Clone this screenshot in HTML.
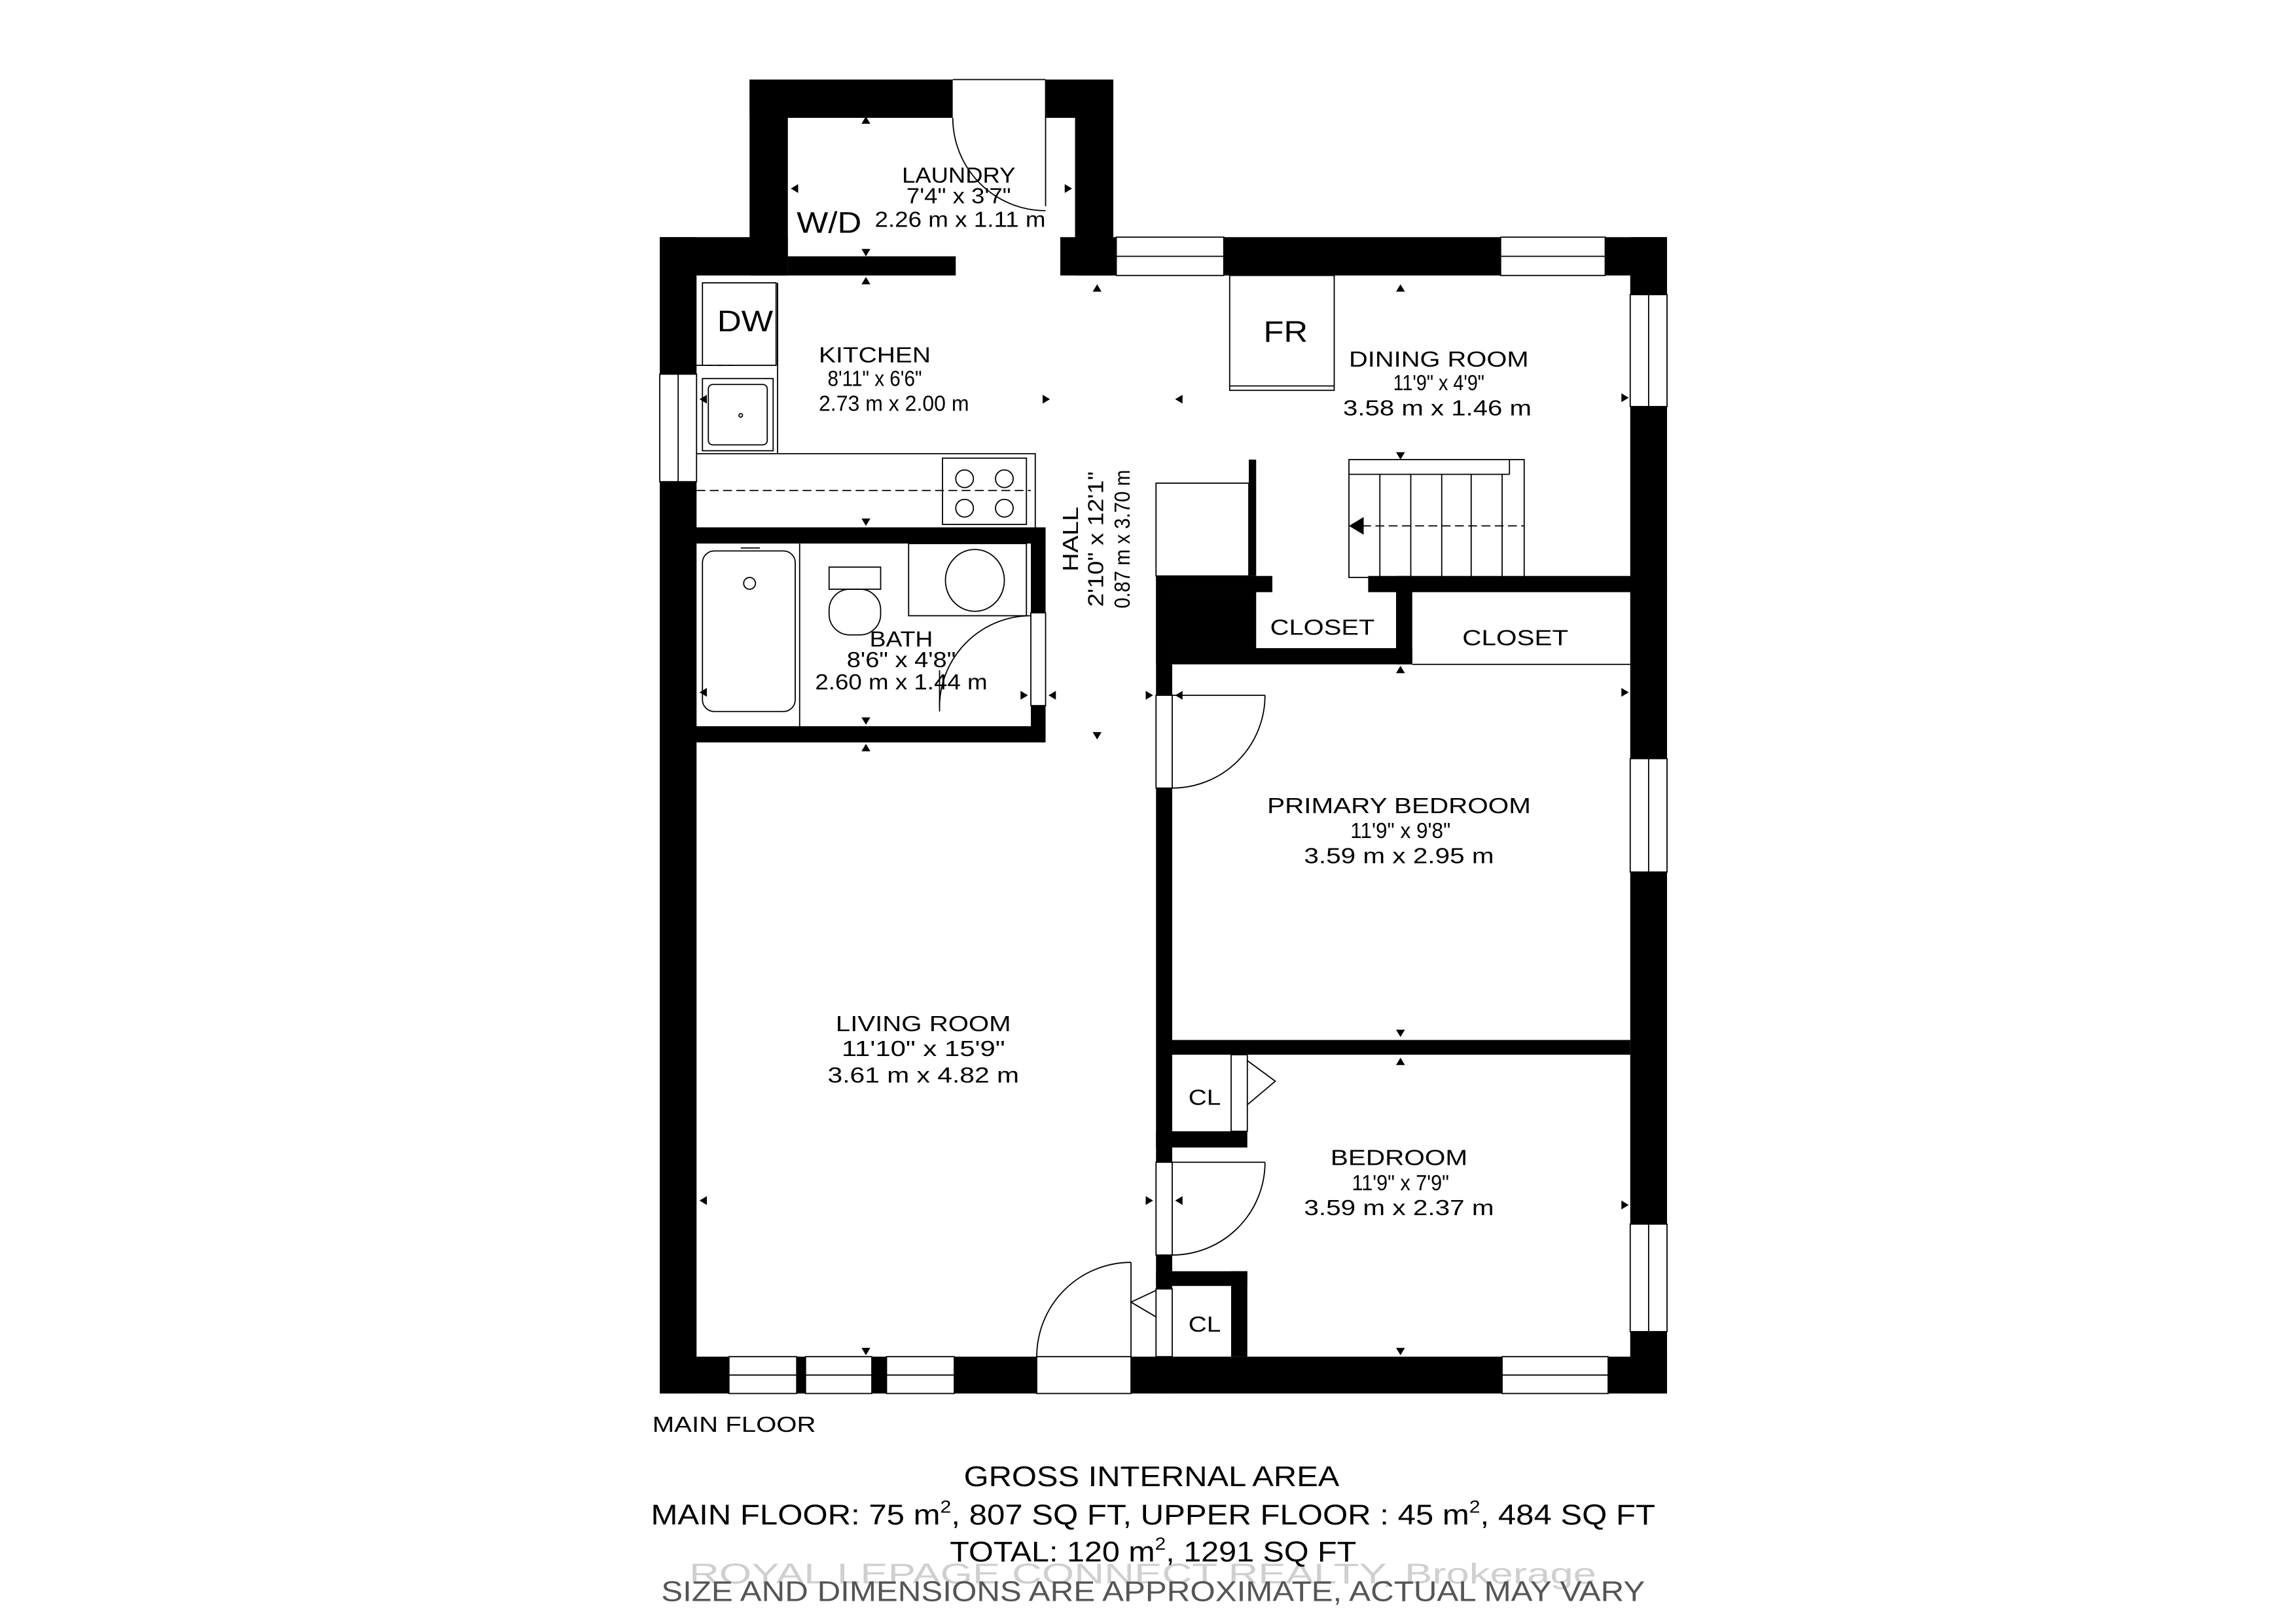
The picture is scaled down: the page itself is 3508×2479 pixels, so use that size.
<!DOCTYPE html>
<html><head><meta charset="utf-8"><style>
html,body{margin:0;padding:0;background:#fff;}
svg{display:block;}
text{font-family:"Liberation Sans Narrow","Liberation Sans",sans-serif;fill:#000;}
</style></head><body>
<svg width="3508" height="2479" viewBox="0 0 1559.1 1101.8" preserveAspectRatio="none" xmlns="http://www.w3.org/2000/svg">
<rect x="0" y="0" width="1559.1" height="1101.8" fill="#fff"/>
<g fill="#000">
<!-- laundry -->
<rect x="509" y="54" width="138" height="26"/>
<rect x="710" y="54" width="46" height="26"/>
<rect x="509" y="54" width="26" height="133"/>
<rect x="730" y="54" width="26" height="133"/>
<!-- top walls -->
<rect x="448" y="161" width="87" height="26"/>
<rect x="535" y="174" width="114" height="13"/>
<rect x="720" y="161" width="412" height="26"/>
<!-- outer walls -->
<rect x="1107" y="161" width="25" height="785"/>
<rect x="448" y="161" width="25" height="785"/>
<rect x="448" y="921" width="684" height="25"/>
<!-- kitchen / bath -->
<rect x="448" y="358" width="262" height="11"/>
<rect x="700" y="358" width="10" height="58"/>
<rect x="700" y="479" width="10" height="25"/>
<rect x="448" y="493" width="262" height="11"/>
<!-- hall -->
<rect x="848" y="312" width="5" height="79"/>
<rect x="785" y="391" width="79" height="11"/>
<rect x="929" y="391" width="203" height="11"/>
<rect x="785" y="402" width="68" height="38"/>
<rect x="948" y="391" width="11" height="60"/>
<rect x="785" y="440" width="174" height="11"/>
<rect x="785" y="391" width="11" height="555"/>
<rect x="796" y="706" width="311" height="10"/>
<rect x="785" y="768" width="62" height="11"/>
<rect x="785" y="863" width="62" height="10"/>
<rect x="836" y="863" width="11" height="58"/>
</g>
<!-- openings (white) -->
<g fill="#fff" stroke="#000" stroke-width="0.8">
<rect x="647" y="54" width="63" height="26" stroke="none"/>
<line x1="647" y1="54" x2="710" y2="54"/>
<rect x="758" y="161" width="73" height="26"/><line x1="758" y1="174" x2="831" y2="174"/>
<rect x="1019" y="161" width="71" height="26"/><line x1="1019" y1="174" x2="1090" y2="174"/>
<rect x="1107" y="200" width="25" height="76"/><line x1="1119.5" y1="200" x2="1119.5" y2="276"/>
<rect x="1107" y="515" width="25" height="77"/><line x1="1119.5" y1="515" x2="1119.5" y2="592"/>
<rect x="1107" y="831" width="25" height="73"/><line x1="1119.5" y1="831" x2="1119.5" y2="904"/>
<rect x="448" y="254" width="25" height="73"/><line x1="460.5" y1="254" x2="460.5" y2="327"/>
<rect x="495" y="921" width="46" height="25"/><line x1="495" y1="933.5" x2="541" y2="933.5"/>
<rect x="547" y="921" width="45" height="25"/><line x1="547" y1="933.5" x2="592" y2="933.5"/>
<rect x="602" y="921" width="46" height="25"/><line x1="602" y1="933.5" x2="648" y2="933.5"/>
<rect x="1020" y="921" width="72" height="25"/><line x1="1020" y1="933.5" x2="1092" y2="933.5"/>
<rect x="704" y="921" width="64" height="25"/>
<rect x="785" y="472" width="11" height="63"/>
<rect x="785" y="789" width="11" height="63"/>
<rect x="785" y="875" width="11" height="46"/>
<rect x="700" y="416" width="10" height="63"/>
<rect x="836" y="716" width="11" height="52"/>
<rect x="864" y="391" width="65" height="11" stroke="none"/>
</g>
<!-- doors & thin lines -->
<g fill="none" stroke="#000" stroke-width="0.8">
<line x1="710" y1="54" x2="710" y2="140"/>
<path d="M647 80 A63 63 0 0 0 710 143"/>
<line x1="796" y1="472" x2="859" y2="472"/>
<path d="M859 472 A63 63 0 0 1 796 535"/>
<line x1="796" y1="789" x2="859" y2="789"/>
<path d="M859 789 A63 63 0 0 1 796 852"/>
<line x1="768" y1="921" x2="768" y2="857"/>
<path d="M704 921 A64 64 0 0 1 768 857"/>
<path d="M700 418 A62 62 0 0 0 638 480"/>
<line x1="638" y1="455" x2="638" y2="483"/>
<polyline points="847,720 866,734 847,750"/>
<polyline points="785,876 768,884 785,894"/>
<line x1="959" y1="451" x2="1107" y2="451"/>
<rect x="785" y="328" width="63" height="63"/>
<!-- kitchen -->
<rect x="477" y="192" width="50" height="56"/>
<line x1="528" y1="192" x2="528" y2="248"/>
<line x1="473" y1="248" x2="500" y2="248" stroke-dasharray="4,3"/>
<rect x="477" y="257" width="48" height="49"/>
<rect x="481" y="261" width="40" height="41" rx="3"/>
<circle cx="503" cy="282" r="1.2"/>
<polyline points="473,308 703,308 703,358"/>
<line x1="528" y1="192" x2="528" y2="308"/>
<rect x="640" y="311" width="57" height="45"/>
<circle cx="655" cy="325" r="6"/><circle cx="682" cy="325" r="6"/>
<circle cx="655" cy="345" r="6"/><circle cx="682" cy="345" r="6"/>
<line x1="473" y1="333" x2="700" y2="333" stroke-dasharray="6,3"/>
<!-- fridge -->
<rect x="835" y="187" width="71" height="78"/>
<line x1="835" y1="262" x2="906" y2="262"/>
<!-- stairs -->
<rect x="916" y="312" width="119" height="80"/>
<line x1="916" y1="322" x2="1025" y2="322"/>
<line x1="1025" y1="312" x2="1025" y2="322"/>
<line x1="937" y1="322" x2="937" y2="392"/><line x1="958" y1="322" x2="958" y2="392"/>
<line x1="979" y1="322" x2="979" y2="392"/><line x1="999" y1="322" x2="999" y2="392"/>
<line x1="1020" y1="322" x2="1020" y2="392"/>
<line x1="925" y1="357" x2="1035" y2="357" stroke-dasharray="6,3"/>
<!-- bath -->
<line x1="543" y1="369" x2="543" y2="493"/>
<rect x="477" y="374" width="63" height="109" rx="8"/>
<circle cx="509" cy="396" r="4"/>
<line x1="503" y1="372" x2="516" y2="372"/>
<rect x="563" y="400" width="35" height="31" rx="14"/>
<rect x="563" y="385" width="35" height="15"/>
<rect x="617" y="369" width="80" height="49"/>
<ellipse cx="662" cy="394" rx="20" ry="21"/>
</g>
<g fill="#000">
<polygon points="916,357 926,351 926,363"/>
<polygon points="588,79 585,84 591,84"/><polygon points="588,188 585,193 591,193"/>
<polygon points="588,174 585,169 591,169"/><polygon points="745,193 742,198 748,198"/>
<polygon points="951,193 948,198 954,198"/><polygon points="951,312 948,307 954,307"/>
<polygon points="588,357 585,352 591,352"/><polygon points="588,492 585,487 591,487"/>
<polygon points="588,505 585,510 591,510"/><polygon points="745,502 742,497 748,497"/>
<polygon points="951,452 948,457 954,457"/><polygon points="951,704 948,699 954,699"/>
<polygon points="951,718 948,723 954,723"/><polygon points="951,920 948,915 954,915"/>
<polygon points="588,920 585,915 591,915"/>
<polygon points="1106,470 1101,467 1101,473"/><polygon points="1106,818 1101,815 1101,821"/>
<polygon points="1106,270 1101,267 1101,273"/>
<polygon points="475,815 480,812 480,818"/><polygon points="783,815 778,812 778,818"/>
<polygon points="798,815 803,812 803,818"/><polygon points="783,472 778,469 778,475"/>
<polygon points="798,472 803,469 803,475"/><polygon points="475,470 480,467 480,473"/>
<polygon points="698,472 693,469 693,475"/><polygon points="712,472 717,469 717,475"/>
<polygon points="475,271 480,268 480,274"/><polygon points="713,271 708,268 708,274"/>
<polygon points="798,271 803,268 803,274"/>
<polygon points="537,128 542,125 542,131"/><polygon points="728,128 723,125 723,131"/>
</g>
<!-- labels -->
<g font-size="15" text-anchor="middle" lengthAdjust="spacingAndGlyphs">
<text x="651" y="124" textLength="77" lengthAdjust="spacingAndGlyphs">LAUNDRY</text>
<text x="651" y="138" textLength="71" lengthAdjust="spacingAndGlyphs">7'4" x 3'7"</text>
<text x="652" y="154" textLength="116" lengthAdjust="spacingAndGlyphs">2.26 m x 1.11 m</text>
<text x="563" y="158" font-size="20" textLength="44" lengthAdjust="spacingAndGlyphs">W/D</text>
<text x="506" y="225" font-size="20" textLength="38" lengthAdjust="spacingAndGlyphs">DW</text>
<text x="873" y="232" font-size="20" textLength="30" lengthAdjust="spacingAndGlyphs">FR</text>
<text x="594" y="246" textLength="76" lengthAdjust="spacingAndGlyphs">KITCHEN</text>
<text x="594" y="262" textLength="64" lengthAdjust="spacingAndGlyphs">8'11" x 6'6"</text>
<text x="607" y="279" textLength="102" lengthAdjust="spacingAndGlyphs">2.73 m x 2.00 m</text>
<text x="977" y="249" textLength="122" lengthAdjust="spacingAndGlyphs">DINING ROOM</text>
<text x="977" y="265" textLength="62" lengthAdjust="spacingAndGlyphs">11'9" x 4'9"</text>
<text x="976" y="282" textLength="128" lengthAdjust="spacingAndGlyphs">3.58 m x 1.46 m</text>
<text x="898" y="431" textLength="71" lengthAdjust="spacingAndGlyphs">CLOSET</text>
<text x="1029" y="438" textLength="72" lengthAdjust="spacingAndGlyphs">CLOSET</text>
<text x="612" y="439" textLength="43" lengthAdjust="spacingAndGlyphs">BATH</text>
<text x="612" y="453" textLength="74" lengthAdjust="spacingAndGlyphs">8'6" x 4'8"</text>
<text x="612" y="468" textLength="117" lengthAdjust="spacingAndGlyphs">2.60 m x 1.44 m</text>
<text x="950" y="552" textLength="179" lengthAdjust="spacingAndGlyphs">PRIMARY BEDROOM</text>
<text x="951" y="569" textLength="68" lengthAdjust="spacingAndGlyphs">11'9" x 9'8"</text>
<text x="950" y="586" textLength="129" lengthAdjust="spacingAndGlyphs">3.59 m x 2.95 m</text>
<text x="627" y="700" textLength="119" lengthAdjust="spacingAndGlyphs">LIVING ROOM</text>
<text x="627" y="717" textLength="111" lengthAdjust="spacingAndGlyphs">11'10" x 15'9"</text>
<text x="627" y="735" textLength="130" lengthAdjust="spacingAndGlyphs">3.61 m x 4.82 m</text>
<text x="950" y="791" textLength="93" lengthAdjust="spacingAndGlyphs">BEDROOM</text>
<text x="951" y="808" textLength="66" lengthAdjust="spacingAndGlyphs">11'9" x 7'9"</text>
<text x="950" y="825" textLength="129" lengthAdjust="spacingAndGlyphs">3.59 m x 2.37 m</text>
<text x="818" y="750" textLength="22" lengthAdjust="spacingAndGlyphs">CL</text>
<text x="818" y="904" textLength="22" lengthAdjust="spacingAndGlyphs">CL</text>
<text transform="translate(732,366) rotate(-90)" textLength="44" lengthAdjust="spacingAndGlyphs">HALL</text>
<text transform="translate(749,366) rotate(-90)" textLength="92" lengthAdjust="spacingAndGlyphs">2'10" x 12'1"</text>
<text transform="translate(767,366) rotate(-90)" textLength="94" lengthAdjust="spacingAndGlyphs">0.87 m x 3.70 m</text>
<text x="443" y="972" text-anchor="start" textLength="111" lengthAdjust="spacingAndGlyphs">MAIN FLOOR</text>
</g>
<g font-size="19.5" text-anchor="middle">
<text x="776" y="1075" fill="#cfcfcf" style="fill:#cfcfcf" textLength="616" lengthAdjust="spacingAndGlyphs">ROYAL LEPAGE CONNECT REALTY, Brokerage</text>
<text x="782" y="1009" textLength="255" lengthAdjust="spacingAndGlyphs">GROSS INTERNAL AREA</text>
<text x="783" y="1035" textLength="682" lengthAdjust="spacingAndGlyphs">MAIN FLOOR: 75 m<tspan dy="-8" font-size="12">2</tspan><tspan dy="8">, 807 SQ FT,  UPPER FLOOR : 45 m</tspan><tspan dy="-8" font-size="12">2</tspan><tspan dy="8">, 484 SQ FT</tspan></text>
<text x="783" y="1060" textLength="276" lengthAdjust="spacingAndGlyphs">TOTAL: 120 m<tspan dy="-8" font-size="12">2</tspan><tspan dy="8">, 1291 SQ FT</tspan></text>
<text x="783" y="1087" fill="#555" style="fill:#555" textLength="668" lengthAdjust="spacingAndGlyphs">SIZE AND DIMENSIONS ARE APPROXIMATE, ACTUAL MAY VARY</text>
</g>
</svg>
</body></html>
